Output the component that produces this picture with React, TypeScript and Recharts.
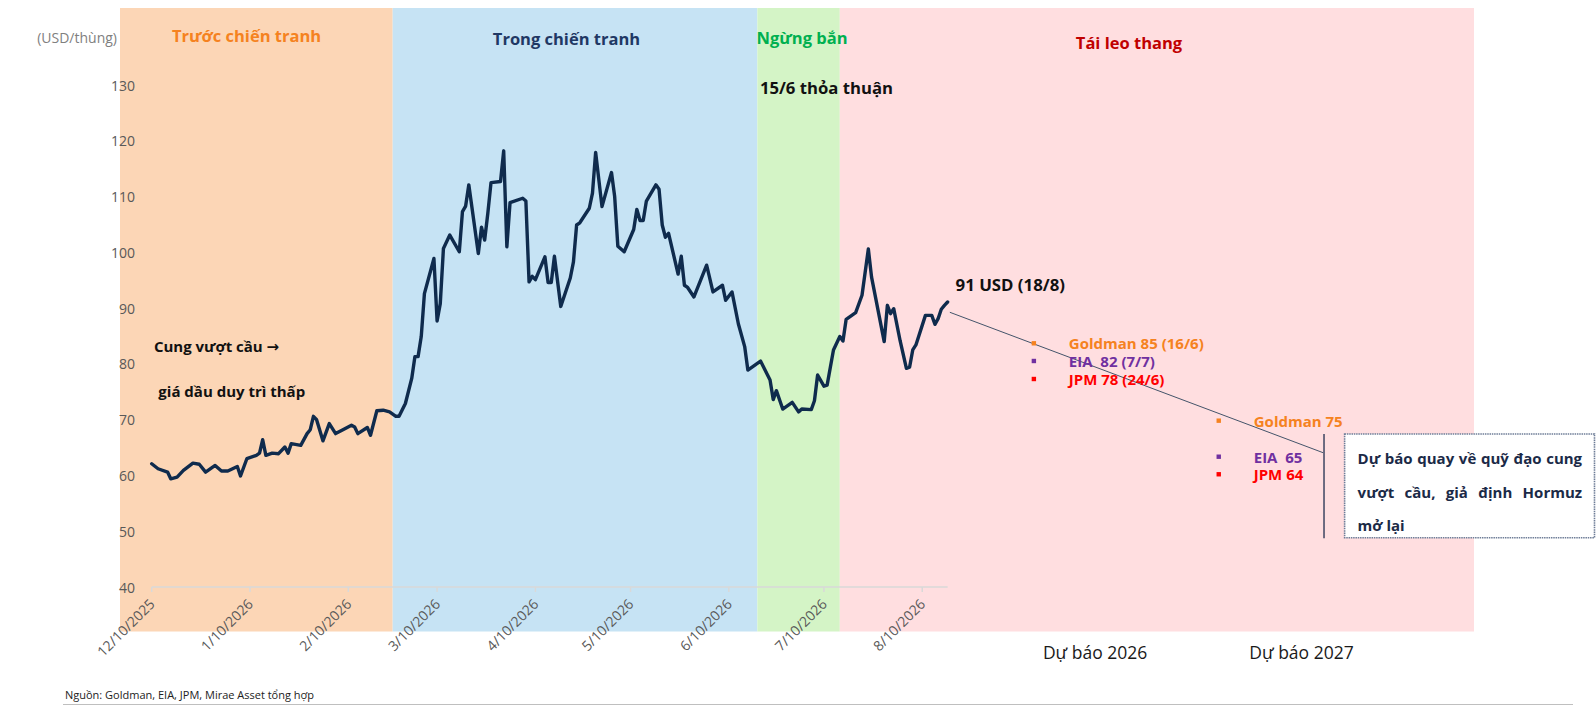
import React, { useLayoutEffect, useRef, useState } from 'react';
import {
  ComposedChart,
  Line,
  XAxis,
  YAxis,
  ReferenceArea,
  ReferenceLine,
  ReferenceDot,
} from 'recharts';

const FONT = '"Open Sans", "Noto Sans", "DejaVu Sans", sans-serif';

// ---------------- data ----------------
const priceDates = [
  '2025-12-10', '2025-12-12', '2025-12-15', '2025-12-16', '2025-12-18', '2025-12-20', '2025-12-23', '2025-12-25', '2025-12-27', '2025-12-30',
  '2026-01-01', '2026-01-03', '2026-01-06', '2026-01-07', '2026-01-09', '2026-01-12', '2026-01-13', '2026-01-14', '2026-01-15', '2026-01-17',
  '2026-01-19', '2026-01-21', '2026-01-22', '2026-01-23', '2026-01-26', '2026-01-28', '2026-01-29', '2026-01-30', '2026-01-31',
  '2026-02-02', '2026-02-04', '2026-02-06', '2026-02-08', '2026-02-11', '2026-02-12', '2026-02-13', '2026-02-16', '2026-02-17', '2026-02-19',
  '2026-02-21', '2026-02-23', '2026-02-25', '2026-02-26', '2026-02-28',
  '2026-03-02', '2026-03-03', '2026-03-04', '2026-03-05', '2026-03-06', '2026-03-09', '2026-03-10', '2026-03-11', '2026-03-12', '2026-03-14',
  '2026-03-17', '2026-03-18', '2026-03-19', '2026-03-20', '2026-03-23', '2026-03-24', '2026-03-25', '2026-03-26', '2026-03-27', '2026-03-30', '2026-03-31',
  '2026-04-01', '2026-04-02', '2026-04-06', '2026-04-07', '2026-04-08', '2026-04-09', '2026-04-10', '2026-04-13', '2026-04-14', '2026-04-15',
  '2026-04-16', '2026-04-18', '2026-04-21', '2026-04-22', '2026-04-23', '2026-04-24', '2026-04-27', '2026-04-28', '2026-04-29',
  '2026-05-01', '2026-05-04', '2026-05-05', '2026-05-06', '2026-05-08', '2026-05-11', '2026-05-12', '2026-05-13', '2026-05-14', '2026-05-15',
  '2026-05-18', '2026-05-19', '2026-05-20', '2026-05-21', '2026-05-22', '2026-05-25', '2026-05-26', '2026-05-27', '2026-05-28', '2026-05-30',
  '2026-06-03', '2026-06-05', '2026-06-08', '2026-06-09', '2026-06-11', '2026-06-13', '2026-06-15', '2026-06-16', '2026-06-20', '2026-06-23',
  '2026-06-24', '2026-06-25', '2026-06-27', '2026-06-30',
  '2026-07-02', '2026-07-03', '2026-07-06', '2026-07-07', '2026-07-08', '2026-07-10', '2026-07-11', '2026-07-13', '2026-07-15', '2026-07-16',
  '2026-07-17', '2026-07-20', '2026-07-22', '2026-07-24', '2026-07-25', '2026-07-29', '2026-07-30', '2026-07-31',
  '2026-08-01', '2026-08-03', '2026-08-05', '2026-08-06', '2026-08-07', '2026-08-08', '2026-08-11', '2026-08-13', '2026-08-14', '2026-08-15',
  '2026-08-16', '2026-08-17', '2026-08-18',
];

const prices = [
  62.1, 61.2, 60.6, 59.4, 59.7, 60.9, 62.2, 62.0, 60.6, 61.8,
  60.8, 60.8, 61.6, 59.9, 63.0, 63.6, 64.0, 66.4, 63.6, 64.0,
  63.9, 65.1, 64.0, 65.7, 65.4, 67.5, 68.2, 70.6, 70.0,
  66.2, 69.3, 67.5, 68.1, 69.0, 68.7, 67.5, 68.6, 67.2, 71.6,
  71.7, 71.4, 70.6, 70.6, 72.9,
  77.4, 81.3, 81.3, 84.9, 92.6, 98.9, 87.7, 90.8, 100.7, 103.1,
  100.1, 107.3, 108.3, 112.1, 99.8, 104.5, 102.2, 107.0, 112.5, 112.7, 118.2,
  101.0, 108.9, 109.7, 109.2, 94.7, 95.7, 95.1, 99.2, 94.6, 94.6,
  99.3, 90.3, 95.4, 98.3, 104.9, 105.3, 107.9, 110.6, 117.9,
  108.2, 114.3, 110.0, 101.1, 100.1, 104.1, 107.7, 105.7, 105.7, 109.2,
  112.1, 111.3, 104.9, 102.7, 103.4, 96.1, 99.3, 94.1, 93.7, 92.0,
  97.7, 92.9, 94.1, 91.4, 92.9, 87.2, 83.1, 78.9, 80.5, 77.1,
  73.6, 75.2, 71.9, 73.1,
  71.4, 71.9, 71.8, 73.4, 78.0, 76.0, 76.2, 82.5, 84.9, 84.1,
  88.0, 89.2, 92.3, 100.6, 95.6, 84.0, 90.5, 89.0,
  89.9, 84.2, 79.2, 79.4, 82.5, 83.4, 88.7, 88.7, 87.1, 88.1,
  89.8, 90.5, 91.1,
];

const axisTickDates = [
  '2025-12-10', '2026-01-10', '2026-02-10', '2026-03-10', '2026-04-10',
  '2026-05-10', '2026-06-10', '2026-07-10', '2026-08-10',
];

const yTicks = [40, 50, 60, 70, 80, 90, 100, 110, 120, 130];

const phaseNames = ['Trước chiến tranh', 'Trong chiến tranh', 'Ngừng bắn', 'Tái leo thang'];
const phaseStarts = ['2025-11-30', '2026-02-24', '2026-06-19', '2026-07-15'];
const phaseEnds = ['2026-02-24', '2026-06-19', '2026-07-15', '2027-01-31'];

const forecastGroups = ['Dự báo 2026', 'Dự báo 2027'];
const forecast2026Labels = ['Goldman 85 (16/6)', 'EIA  82 (7/7)', 'JPM 78 (24/6)'];
const forecast2027Labels = ['Goldman 75', 'EIA  65', 'JPM 64'];
const forecastSources = ['Goldman', 'EIA', 'JPM'];

const boxLines = ['Dự báo quay về quỹ đạo cung', 'vượt cầu, giả định Hormuz', 'mở lại'];

// ---------------- helpers ----------------
const BASE = Date.UTC(2025, 11, 10);
const dayOf = (iso: string) => {
  const [y, m, d] = iso.split('-').map(Number);
  return Math.round((Date.UTC(y, m - 1, d) - BASE) / 86400000);
};
const labelOf = (iso: string) => {
  const [y, m, d] = iso.split('-').map(Number);
  return `${m}/${d}/${y}`;
};

const priceData = priceDates.map((d, i) => ({ day: dayOf(d), price: prices[i] }));
const lastPoint = priceData[priceData.length - 1];

// ---------------- layout / style ----------------
const X_MIN = dayOf(phaseStarts[0]);
const X_MAX = dayOf(phaseEnds[phaseEnds.length - 1]);
const BAND_TOP = 143.8;
const BAND_BOTTOM = 32.0;

const phaseFill = ['#FCD6B6', '#C6E3F4', '#D4F4C6', '#FFDEE0'];
const phaseText = ['#F58220', '#1F3864', '#00B050', '#C00000'];
const phaseLabelPos = [
  { day: 29.9, v: 138.96 },
  { day: 130.8, v: 138.25 },
  { day: 205.1, v: 138.6 },
  { day: 308.2, v: 137.7 },
];
const sourceColor: Record<string, string> = { Goldman: '#F58220', EIA: '#7030A0', JPM: '#FF0000' };
const groupPos = [
  { day: 278.2, rows: [83.69, 80.52, 77.29] },
  { day: 336.5, rows: [69.82, 63.36, 60.21] },
];
const groupTickDays = [297.5, 362.6];

const monthTickDays = axisTickDates.map(dayOf);
const tickLabelMap: Record<number, string> = {};
axisTickDates.forEach((d) => (tickLabelMap[dayOf(d)] = labelOf(d)));

const XTick = (props: any) => {
  const { x, y, payload } = props;
  const gi = groupTickDays.indexOf(payload.value);
  if (gi >= 0) {
    return (
      <text x={x} y={y + 65} textAnchor="middle" dominantBaseline="central" fontFamily={FONT} fontSize={17.5} fill="#1a1a1a">
        {forecastGroups[gi]}
      </text>
    );
  }
  const px = x + 4;
  const py = y + 18;
  return (
    <g>
      <line x1={x} x2={x} y1={y} y2={y + 5} stroke="#d9d9d9" strokeWidth={1.5} />
      <text x={px} y={py} transform={`rotate(-45 ${px} ${py})`} textAnchor="end" fontFamily={FONT} fontSize={14} fill="#595959">
        {tickLabelMap[payload.value]}
      </text>
    </g>
  );
};

const YTick = (props: any) => {
  const { x, y, payload } = props;
  return (
    <text x={x + 15} y={y} textAnchor="end" dominantBaseline="central" fontFamily={FONT} fontSize={14} fill="#595959">
      {payload.value}
    </text>
  );
};

const textShape = (text: string, o: { anchor?: string; color?: string; size?: number; weight?: number; dx?: number; dy?: number }) =>
  (p: any) => (
    <text
      x={p.cx + (o.dx || 0)}
      y={p.cy + (o.dy || 0)}
      textAnchor={o.anchor || 'start'}
      dominantBaseline="central"
      fontFamily={FONT}
      fontSize={o.size || 15}
      fontWeight={o.weight || 700}
      fill={o.color || '#111'}
      style={{ whiteSpace: 'pre' }}
    >
      {text}
    </text>
  );

const bulletShape = (text: string, color: string) => (p: any) => (
  <g>
    <rect x={p.cx - 2.2} y={p.cy - 2.2} width={4.4} height={4.4} fill={color} />
    <text
      x={p.cx + 35}
      y={p.cy}
      dominantBaseline="central"
      fontFamily={FONT}
      fontSize={15}
      fontWeight={700}
      fill={color}
      style={{ whiteSpace: 'pre' }}
    >
      {text}
    </text>
  </g>
);

// text line justified to a given width by word spacing (measured after layout)
const JustifiedText = ({ x, y, width, justify, children, ...rest }: any) => {
  const ref = useRef<SVGTextElement>(null);
  const [ws, setWs] = useState(0);
  useLayoutEffect(() => {
    if (!justify || !ref.current) return;
    const len = ref.current.getComputedTextLength();
    const gaps = String(children).split(' ').length - 1;
    if (gaps > 0 && len > 0) {
      const extra = (width - (len - ws * gaps)) / gaps;
      if (Math.abs(extra - ws) > 0.2) setWs(extra);
    }
  });
  return (
    <text ref={ref} x={x} y={y} style={{ wordSpacing: `${ws}px` }} {...rest}>
      {children}
    </text>
  );
};

const boxShape = (p: any) => {
  const { x, y, width, height } = p;
  const left = x + 13;
  const span = 224.5;
  return (
    <g>
      <rect x={x} y={y} width={width} height={height} fill="#ffffff" stroke="#6F7E98" strokeWidth={1.6} strokeDasharray="1.5 0.8" />
      {boxLines.map((t, i) => (
        <JustifiedText
          key={i}
          x={left}
          y={y + 24.3 + i * 33.4}
          width={span}
          justify={i < boxLines.length - 1}
          dominantBaseline="central"
          fontFamily={FONT}
          fontSize={15}
          fontWeight={700}
          fill="#1B2A47"
        >
          {t}
        </JustifiedText>
      ))}
    </g>
  );
};

export default function App() {
  return (
    <div style={{ position: 'relative', width: 1596, height: 711, background: '#fff', fontFamily: FONT }}>
      <style>{'html,body{margin:0;padding:0;background:#fff;}'}</style>
      <ComposedChart
        width={1596}
        height={711}
        data={priceData}
        margin={{ top: 85, right: 122, bottom: 94, left: 100 }}
      >
        {phaseNames.map((n, i) => (
          <ReferenceArea
            key={n}
            x1={dayOf(phaseStarts[i])}
            x2={dayOf(phaseEnds[i])}
            y1={BAND_BOTTOM}
            y2={BAND_TOP}
            fill={phaseFill[i]}
            fillOpacity={1}
            stroke="none"
            ifOverflow="visible"
          />
        ))}
        <XAxis
          type="number"
          dataKey="day"
          domain={[X_MIN, X_MAX]}
          ticks={[...monthTickDays, ...groupTickDays]}
          interval={0}
          height={30}
          axisLine={false}
          tickLine={false}
          tickSize={0}
          tickMargin={0}
          tick={XTick}
          allowDataOverflow
        />
        <YAxis
          type="number"
          domain={[40, 130]}
          ticks={yTicks}
          interval={0}
          width={20}
          axisLine={false}
          tickLine={false}
          tickSize={0}
          tickMargin={0}
          tick={YTick}
          allowDataOverflow
          label={(lp: any) => {
            const vb = lp.viewBox || {};
            return (
              <text x={(vb.x || 100) + 17} y={(vb.y || 85) - 47.3} textAnchor="end" dominantBaseline="central" fontFamily={FONT} fontSize={14} fill="#7F7F7F">
                (USD/thùng)
              </text>
            );
          }}
        />
        <ReferenceLine
          segment={[{ x: priceData[0].day, y: 40 }, { x: lastPoint.day, y: 40 }]}
          stroke="#d9d9d9"
          strokeWidth={1.6}
          ifOverflow="visible"
        />
        <ReferenceLine
          segment={[{ x: 251.7, y: 89.25 }, { x: 369.4, y: 64.08 }]}
          stroke="#44546A"
          strokeWidth={1}
          ifOverflow="visible"
        />
        <ReferenceLine
          segment={[{ x: 369.7, y: 67.43 }, { x: 369.7, y: 48.73 }]}
          stroke="#1F2D4D"
          strokeWidth={1.3}
          ifOverflow="visible"
        />
        <Line
          type="linear"
          dataKey="price"
          stroke="#0F2B4D"
          strokeWidth={3.4}
          strokeLinejoin="round"
          strokeLinecap="round"
          dot={false}
          activeDot={false}
          isAnimationActive={false}
        />
        {phaseNames.map((n, i) => (
          <ReferenceDot
            key={'pl' + i}
            x={phaseLabelPos[i].day}
            y={phaseLabelPos[i].v}
            ifOverflow="visible"
            shape={textShape(n, { anchor: 'middle', color: phaseText[i], size: 16.5 })}
          />
        ))}
        <ReferenceDot x={191.8} y={129.64} ifOverflow="visible" shape={textShape('15/6 thỏa thuận', { color: '#111', size: 16.7 })} />
        <ReferenceDot x={0.7} y={83.12} ifOverflow="visible" shape={textShape('Cung vượt cầu →', { color: '#111', size: 15 })} />
        <ReferenceDot x={2.1} y={75.14} ifOverflow="visible" shape={textShape('giá dầu duy trì thấp', { color: '#111', size: 15 })} />
        <ReferenceDot
          x={lastPoint.day}
          y={lastPoint.price}
          ifOverflow="visible"
          shape={textShape(`${Math.round(lastPoint.price)} USD (18/8)`, { color: '#111', size: 16.8, dx: 8, dy: -17 })}
        />
        {forecast2026Labels.map((t, i) => (
          <ReferenceDot key={'f26' + i} x={groupPos[0].day} y={groupPos[0].rows[i]} ifOverflow="visible" shape={bulletShape(t, sourceColor[forecastSources[i]])} />
        ))}
        {forecast2027Labels.map((t, i) => (
          <ReferenceDot key={'f27' + i} x={groupPos[1].day} y={groupPos[1].rows[i]} ifOverflow="visible" shape={bulletShape(t, sourceColor[forecastSources[i]])} />
        ))}
        <ReferenceArea x1={376.2} x2={455.0} y1={48.84} y2={67.43} ifOverflow="visible" shape={boxShape} />
      </ComposedChart>
      <div style={{ position: 'absolute', left: 65, top: 687, fontSize: 11, lineHeight: '16px', color: '#222', fontFamily: FONT, whiteSpace: 'nowrap' }}>
        Nguồn: Goldman, EIA, JPM, Mirae Asset tổng hợp
      </div>
      <div style={{ position: 'absolute', left: 63, top: 704, width: 1510, height: 1, background: '#BFBFBF' }} />
    </div>
  );
}
